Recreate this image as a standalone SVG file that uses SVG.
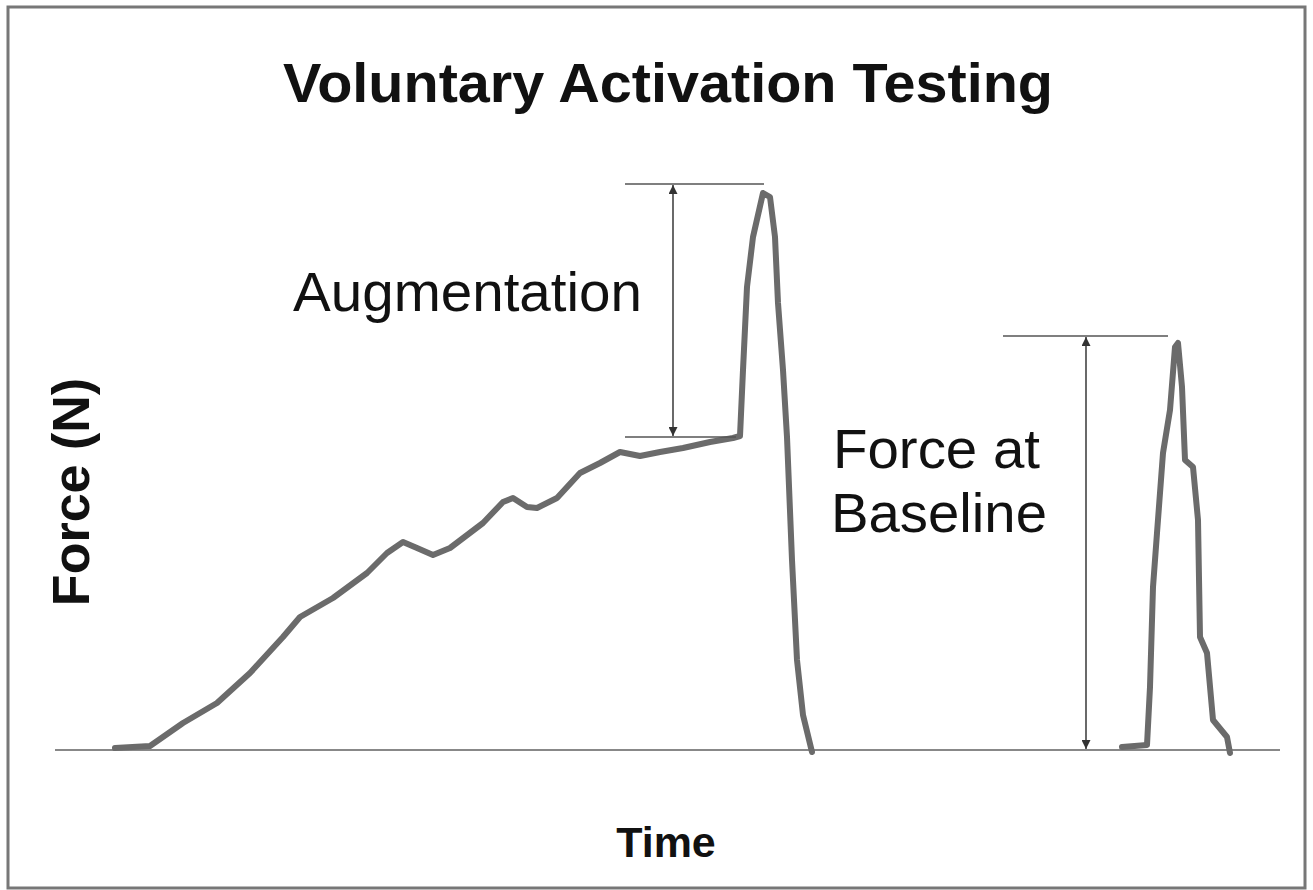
<svg xmlns="http://www.w3.org/2000/svg" width="1313" height="890" viewBox="0 0 1313 890">
<style>
.t{font-family:"Liberation Sans",Arial,sans-serif;fill:#111}
.b{font-weight:bold}
.trace{fill:none;stroke:#6b6b6b;stroke-width:6;stroke-linejoin:round;stroke-linecap:round}
.dim{stroke:#444;stroke-width:1.6;fill:none}
.ext{stroke:#555;stroke-width:1.6}
</style>
<defs>
<marker id="ah" viewBox="0 0 10 10" refX="10" refY="5" markerWidth="10" markerHeight="9" markerUnits="userSpaceOnUse" orient="auto-start-reverse">
<path d="M0,0 L10,5 L0,10 z" fill="#333"/>
</marker>
</defs>
<rect x="0" y="0" width="1313" height="890" fill="#fff"/>
<rect x="8" y="7" width="1297" height="881" fill="none" stroke="#777" stroke-width="3"/>
<g id="title"><text class="t b" x="283" y="102" font-size="55" textLength="770" lengthAdjust="spacingAndGlyphs">Voluntary Activation Testing</text></g>
<g id="ylabel"><text class="t b" transform="translate(89,492) rotate(-90)" font-size="52" text-anchor="middle">Force (N)</text></g>
<g id="xlabel"><text class="t b" x="666" y="857" font-size="43" text-anchor="middle">Time</text></g>
<g id="axis"><line x1="55" y1="750" x2="1280" y2="750" stroke="#888" stroke-width="2"/></g>
<g id="trace1">
<path class="trace" d="M115,748 L150,746 L183,723 L217,703 L250,673 L283,637 L300,617 L333,598 L367,573 L387,553 L403,542 L417,548 L433,555 L450,548 L483,523 L503,502 L513,498 L527,507 L537,508 L557,498 L580,473 L600,463 L620,452 L640,456 L660,452 L683,448 L710,442 L733,438 L740,436 L743,370 L747,287 L753,237 L763,193 L770,197 L775,237 L778,303 L783,370 L787,437 L792,560 L797,660 L803,715 L812,752"/>
</g>
<g id="trace2">
<path class="trace" d="M1122,747 L1147,745 L1150,687 L1153,587 L1157,533 L1163,453 L1170,410 L1175,347 L1178,343 L1182,387 L1185,460 L1193,467 L1198,520 L1200,637 L1207,653 L1213,720 L1227,737 L1230,753"/>
</g>
<g id="connectors">
<line class="ext" x1="625" y1="184" x2="764" y2="184"/>
<line class="ext" x1="625" y1="437" x2="736" y2="437"/>
<line class="dim" x1="673" y1="185" x2="673" y2="436" marker-start="url(#ah)" marker-end="url(#ah)"/>
<line class="ext" x1="1003" y1="336" x2="1168" y2="336"/>
<line class="dim" x1="1086" y1="337" x2="1086" y2="749" marker-start="url(#ah)" marker-end="url(#ah)"/>
</g>
<g id="aug-label"><text class="t" x="293" y="311" font-size="55" textLength="349" lengthAdjust="spacingAndGlyphs">Augmentation</text></g>
<g id="base-label">
<text class="t" x="833" y="468" font-size="55" textLength="207" lengthAdjust="spacingAndGlyphs">Force at</text>
<text class="t" x="831" y="532" font-size="55" textLength="216" lengthAdjust="spacingAndGlyphs">Baseline</text>
</g>
</svg>
